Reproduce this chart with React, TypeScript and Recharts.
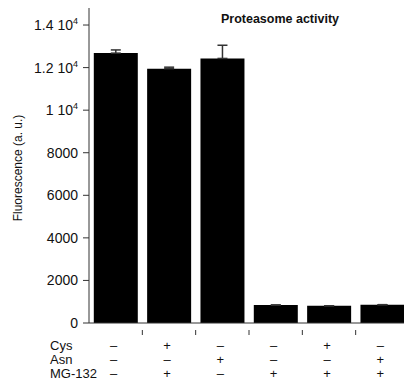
import React from "react";
import { BarChart, Bar, XAxis, YAxis, ErrorBar } from "recharts";

const categories = ["c1", "c2", "c3", "c4", "c5", "c6"];
const values = [12680, 11950, 12430, 845, 810, 860];
const errors = [150, 70, 620, 0, 0, 0];
const cysRow = ["–", "+", "–", "–", "+", "–"];
const asnRow = ["–", "–", "+", "–", "–", "+"];
const mgRow = ["–", "+", "–", "+", "+", "+"];
const rowLabels = ["Cys", "Asn", "MG-132"];
const yTicks = [0, 2000, 4000, 6000, 8000, 10000, 12000, 14000];
const yTickLabels: Record<number, [string, string]> = {
  0: ["0", ""],
  2000: ["2000", ""],
  4000: ["4000", ""],
  6000: ["6000", ""],
  8000: ["8000", ""],
  10000: ["1 10", "4"],
  12000: ["1.2 10", "4"],
  14000: ["1.4 10", "4"],
};

const data = categories.map((c, i) => ({
  name: c,
  value: values[i],
  err: [0, errors[i]],
  cys: cysRow[i],
  asn: asnRow[i],
  mg: mgRow[i],
}));

const FONT = "'Liberation Sans', Arial, Helvetica, sans-serif";
const BAND = 320 / 6;

const YTick = (props: any) => {
  const { x, y, payload } = props;
  const [main, sup] = yTickLabels[payload.value] || [String(payload.value), ""];
  return (
    <text x={x} y={y} dy={5} textAnchor="end" fontFamily={FONT} fontSize={14} fill="#111">
      {main}
      {sup ? (
        <tspan dy={-6} fontSize={9}>
          {sup}
        </tspan>
      ) : null}
    </text>
  );
};

const XTick = (props: any) => {
  const { x, y, index } = props;
  const d = data[index];
  const rows = [d.cys, d.asn, d.mg];
  const rowY = [345, 359.5, 373.5];
  return (
    <g>
      {index > 0 ? (
        <line x1={x - BAND / 2} x2={x - BAND / 2} y1={y - 1} y2={y + 4} stroke="#333" strokeWidth={1} />
      ) : null}
      {rows.map((s, k) => (
        <text
          key={k}
          x={x - 2}
          y={rowY[k]}
          dy={4.5}
          textAnchor="middle"
          fontFamily={FONT}
          fontSize={13}
          fill="#111"
        >
          {s}
        </text>
      ))}
      {index === 0
        ? rowLabels.map((l, k) => (
            <text key={"l" + k} x={50} y={rowY[k]} dy={4.5} fontFamily={FONT} fontSize={13} fill="#111">
              {l}
            </text>
          ))
        : null}
    </g>
  );
};

export default function App() {
  return (
    <div
      style={{
        position: "fixed",
        left: 0,
        top: 0,
        width: 404,
        height: 381,
        overflow: "hidden",
        background: "#fff",
      }}
    >
      <BarChart
        width={410}
        height={381}
        data={data}
        margin={{ top: 8, right: 1, bottom: 0, left: 0 }}
        barCategoryGap="9%"
      >
        <XAxis
          dataKey="name"
          tick={<XTick />}
          tickLine={false}
          axisLine={{ stroke: "#333", strokeWidth: 1 }}
          interval={0}
          height={58}
        />
        <YAxis
          domain={[0, 14800]}
          ticks={yTicks}
          width={89}
          tick={<YTick />}
          tickSize={6}
          tickMargin={5}
          tickLine={{ stroke: "#333" }}
          axisLine={{ stroke: "#333", strokeWidth: 1 }}
        />
        <Bar dataKey="value" fill="#000" isAnimationActive={false}>
          <ErrorBar dataKey="err" width={5} stroke="#333" strokeWidth={1.5} direction="y" />
        </Bar>
        <text
          x={18}
          y={168}
          transform="rotate(-90 18 168)"
          textAnchor="middle"
          dominantBaseline="central"
          fontFamily={FONT}
          fontSize={12}
          fill="#111"
        >
          Fluorescence (a. u.)
        </text>
        <text x={280} y={23} textAnchor="middle" fontFamily={FONT} fontSize={12.5} fontWeight="bold" fill="#111">
          Proteasome activity
        </text>
      </BarChart>
    </div>
  );
}
